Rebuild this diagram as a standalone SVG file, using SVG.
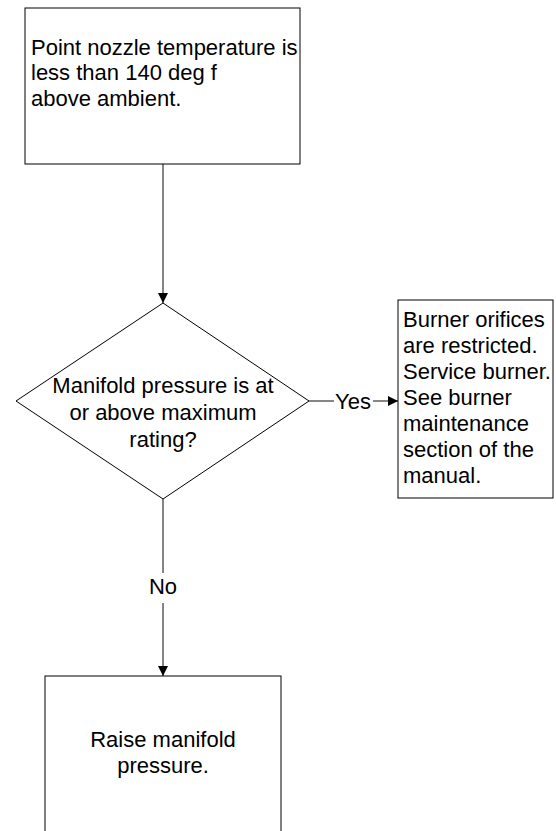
<svg xmlns="http://www.w3.org/2000/svg" width="556" height="831" viewBox="0 0 556 831">
<style>
.shape{fill:#fff;stroke:#000;stroke-width:1}
.t{font-family:"Liberation Sans",Arial,sans-serif;font-size:22px;fill:#000}
.c{text-anchor:middle}
.conn{stroke:#444;stroke-width:1.3;fill:none}
</style>
<defs>
<marker id="ah" markerWidth="10" markerHeight="10" refX="10" refY="5" orient="auto" markerUnits="userSpaceOnUse">
<path d="M0,0 L10,5 L0,10 Z" fill="#000"/>
</marker>
</defs>
<rect width="556" height="831" fill="#fff"/>
<g id="connectors">
<line class="conn" x1="163" y1="164" x2="163" y2="303" marker-end="url(#ah)"/>
<line class="conn" x1="309" y1="401" x2="334" y2="401"/>
<line class="conn" x1="373" y1="401" x2="398" y2="401" marker-end="url(#ah)"/>
<text class="t c" x="353" y="409">Yes</text>
<line class="conn" x1="163" y1="499" x2="163" y2="573"/>
<line class="conn" x1="163" y1="603" x2="163" y2="676" marker-end="url(#ah)"/>
<text class="t c" x="163" y="594">No</text>
</g>
<g id="start">
<rect class="shape" x="25" y="8" width="275" height="156"/>
<text class="t" x="31" y="55">Point nozzle temperature is</text>
<text class="t" x="31" y="80">less than 140 deg f</text>
<text class="t" x="31" y="106">above ambient.</text>
</g>
<g id="decision">
<polygon class="shape" points="163,303 309,401 163,499 16,401"/>
<text class="t c" x="163" y="393">Manifold pressure is at</text>
<text class="t c" x="163" y="420">or above maximum</text>
<text class="t c" x="163" y="447">rating?</text>
</g>
<g id="service">
<rect class="shape" x="398" y="300" width="155" height="198"/>
<text class="t" x="403" y="327">Burner orifices</text>
<text class="t" x="403" y="353">are restricted.</text>
<text class="t" x="403" y="379">Service burner.</text>
<text class="t" x="403" y="405">See burner</text>
<text class="t" x="403" y="431">maintenance</text>
<text class="t" x="403" y="457">section of the</text>
<text class="t" x="403" y="483">manual.</text>
</g>
<g id="raise">
<rect class="shape" x="45" y="676" width="236" height="200"/>
<text class="t c" x="163" y="747">Raise manifold</text>
<text class="t c" x="163" y="773">pressure.</text>
</g>
</svg>
